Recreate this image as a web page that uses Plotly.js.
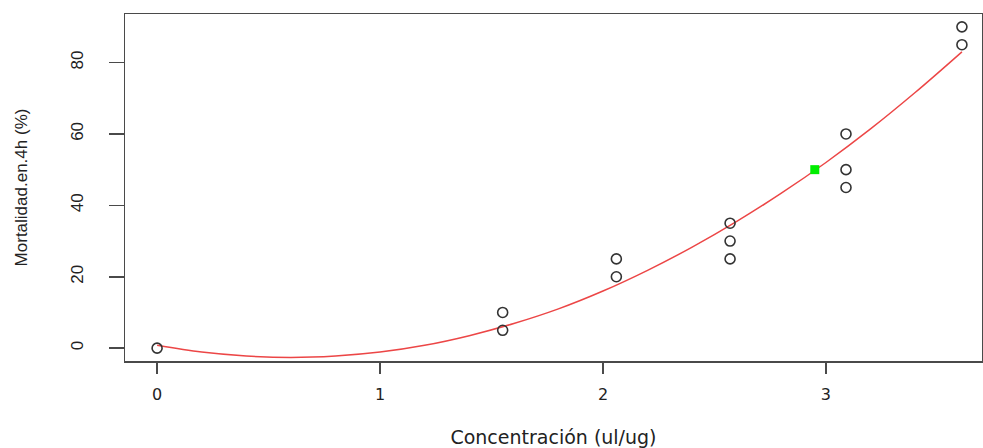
<!DOCTYPE html>
<html>
<head>
<meta charset="utf-8">
<script src="https://cdn.plot.ly/plotly-3.0.1.min.js"></script>
<style>html,body{margin:0;padding:0;background:#fff;}#chart{width:983px;height:448px;}</style>
</head>
<body>
<div id="chart"></div>
<script>
// Observed points
const concentracion = [0, 1.55, 1.55, 2.06, 2.06, 2.57, 2.57, 2.57, 3.09, 3.09, 3.09, 3.61, 3.61];
const mortalidad    = [0, 5, 10, 20, 25, 25, 30, 35, 45, 50, 60, 85, 90];
// Fitted curve, values
const curveX = [0, 0.2, 0.4, 0.6, 0.8, 1.0, 1.2, 1.4, 1.6, 1.8, 2.0, 2.2, 2.4, 2.6, 2.8, 3.0, 3.2, 3.4, 3.61];
const curveY = [0.8, -1.1, -2.2, -2.6, -2.2, -1.1, 0.8, 3.5, 6.9, 11.0, 16.0, 21.8, 28.3, 35.5, 43.4, 52.0, 61.4, 71.6, 83.0];
// Highlighted point (LC50)
const lc50X = [2.95];
const lc50Y = [50];
// Tick labels
const xTicks = [0, 1, 2, 3];
const yTicks = [0, 20, 40, 60, 80];

const axisCol = '#4a4a4a';
const traces = [
  {x: curveX, y: curveY, type: 'scatter', mode: 'lines', line: {color: 'rgb(236,70,70)', width: 1.5, shape: 'spline'}, hoverinfo: 'skip'},
  {x: concentracion, y: mortalidad, type: 'scatter', mode: 'markers',
   marker: {symbol: 'circle-open', size: 10, color: '#333', line: {width: 1.6, color: '#333'}}},
  {x: lc50X, y: lc50Y, type: 'scatter', mode: 'markers',
   marker: {symbol: 'square', size: 9, color: '#00ee00'}}
];
const layout = {
  width: 983, height: 448,
  margin: {l: 125, r: 1, t: 14, b: 87},
  paper_bgcolor: '#fff', plot_bgcolor: '#fff',
  showlegend: false,
  font: {family: 'Liberation Sans, Arial, sans-serif', color: '#222'},
  xaxis: {
    range: [-0.144, 3.70], tickvals: xTicks, ticktext: xTicks.map(String),
    showgrid: false, zeroline: false, showline: true, mirror: true,
    linecolor: axisCol, linewidth: 1.5,
    ticks: 'outside', ticklen: 11, tickwidth: 1.5, tickcolor: axisCol,
    ticklabelstandoff: 7,
    tickfont: {family: 'DejaVu Sans, sans-serif', size: 16, color: '#222'},
    title: {text: 'Concentración (ul/ug)', standoff: 31,
            font: {family: 'DejaVu Sans, sans-serif', size: 19, color: '#222'}},
    automargin: false
  },
  yaxis: {
    range: [-3.6, 93.6], tickvals: yTicks, ticktext: yTicks.map(String),
    showgrid: false, zeroline: false, showline: true, mirror: true,
    linecolor: axisCol, linewidth: 1.5,
    ticks: 'outside', ticklen: 15, tickwidth: 1.5, tickcolor: axisCol,
    tickangle: -90, ticklabelstandoff: 19,
    tickfont: {size: 17, color: '#222'},
    title: {text: 'Mortalidad.en.4h (%)', standoff: 36, font: {size: 17, color: '#222'}},
    automargin: false
  }
};
Plotly.newPlot('chart', traces, layout, {displayModeBar: false, staticPlot: true});
</script>
</body>
</html>
